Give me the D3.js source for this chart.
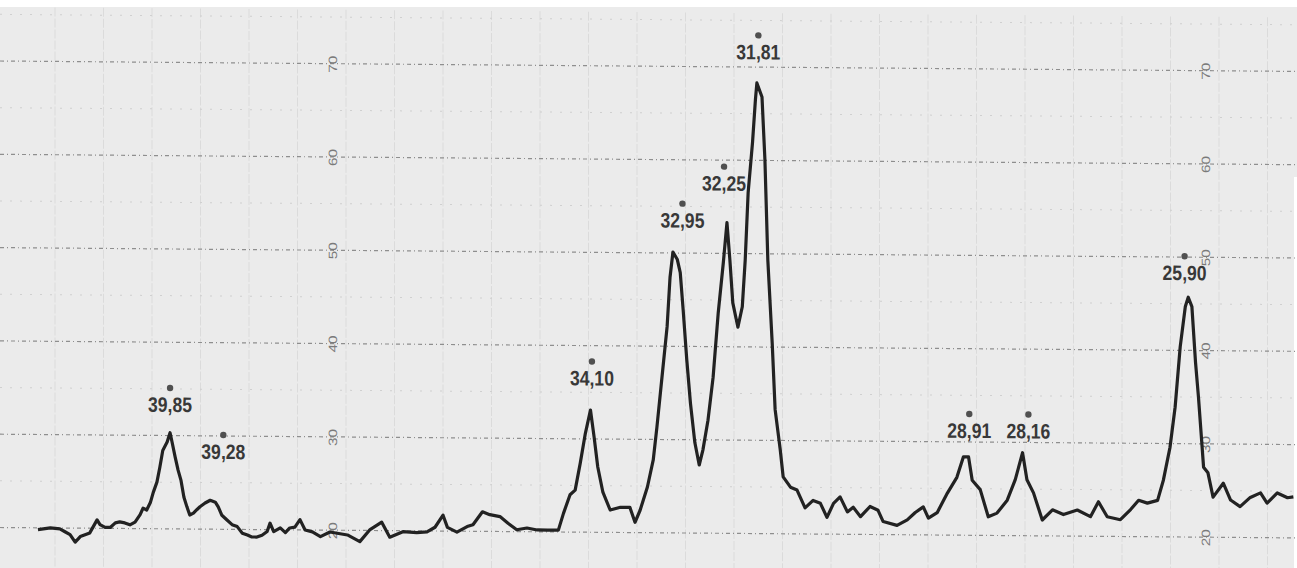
<!DOCTYPE html>
<html>
<head>
<meta charset="utf-8">
<script src="https://cdn.jsdelivr.net/npm/d3@7"></script>
<style>
  body { margin: 0; background: #fff; }
  svg { display: block; }
</style>
</head>
<body>
<div id="datavis"></div>
<script>
// 2-theta (degrees) from left to right
const angles = [
  41.66, 41.49, 41.36, 41.29, 41.22, 41.15, 41.08, 40.95, 40.85, 40.81,
  40.74, 40.67, 40.60, 40.54, 40.47, 40.40, 40.33, 40.26, 40.22, 40.17,
  40.12, 40.08, 40.03, 39.99, 39.95, 39.89, 39.85, 39.82, 39.78, 39.74,
  39.70, 39.66, 39.62, 39.58, 39.53, 39.48, 39.44, 39.37, 39.30, 39.23,
  39.19, 39.14, 39.07, 39.00, 38.93, 38.86, 38.79, 38.73, 38.66, 38.59,
  38.52, 38.48, 38.43, 38.34, 38.27, 38.21, 38.14, 38.07, 38.00, 37.90,
  37.79, 37.66, 37.42, 37.25, 37.11, 36.95, 36.84, 36.66, 36.47, 36.33,
  36.22, 36.11, 36.05, 35.92, 35.78, 35.70, 35.57, 35.47, 35.33, 35.22,
  35.10, 34.96, 34.82, 34.68, 34.53, 34.46, 34.37, 34.30, 34.23, 34.16,
  34.09, 34.04, 33.99, 33.92, 33.82, 33.68, 33.55, 33.48, 33.41, 33.31,
  33.23, 33.18, 33.11, 33.04, 33.00, 32.96, 32.90, 32.86, 32.82, 32.77,
  32.72, 32.66, 32.60, 32.55, 32.48, 32.41, 32.34, 32.27, 32.22, 32.18,
  32.14, 32.07, 32.01, 31.97, 31.93, 31.87, 31.83, 31.81, 31.74, 31.70,
  31.66, 31.60, 31.56, 31.49, 31.45, 31.35, 31.26, 31.15, 31.04, 30.94,
  30.85, 30.76, 30.67, 30.57, 30.49, 30.39, 30.26, 30.15, 30.08, 29.89,
  29.75, 29.64, 29.53, 29.46, 29.34, 29.20, 29.07, 28.98, 28.91, 28.86,
  28.75, 28.64, 28.52, 28.38, 28.27, 28.17, 28.11, 28.02, 27.90, 27.76,
  27.61, 27.42, 27.24, 27.13, 27.01, 26.83, 26.69, 26.58, 26.46, 26.32,
  26.24, 26.15, 26.08, 26.01, 25.94, 25.90, 25.85, 25.80, 25.76, 25.69,
  25.63, 25.56, 25.42, 25.32, 25.19, 25.05, 24.91, 24.82, 24.68, 24.54,
  24.46
]

// intensity in chart divisions at each angle
const counts = [
  19.8, 20.0, 19.9, 19.6, 19.3, 18.5, 19.1, 19.5, 20.9, 20.4,
  20.1, 20.1, 20.6, 20.7, 20.6, 20.4, 20.7, 21.5, 22.2, 22.0,
  22.8, 23.9, 25.0, 26.6, 28.4, 29.3, 30.3, 29.2, 27.7, 26.3,
  25.2, 23.4, 22.4, 21.5, 21.7, 22.1, 22.4, 22.8, 23.1, 22.9,
  22.4, 21.5, 21.0, 20.5, 20.3, 19.6, 19.4, 19.2, 19.2, 19.4,
  19.8, 20.7, 19.8, 20.2, 19.7, 20.2, 20.3, 21.1, 20.0, 19.8,
  19.3, 19.8, 19.5, 18.8, 20.1, 20.9, 19.3, 19.9, 19.8, 19.9,
  20.4, 21.7, 20.4, 19.9, 20.5, 20.7, 22.1, 21.8, 21.6, 20.9,
  20.2, 20.4, 20.2, 20.2, 20.2, 22.0, 24.0, 24.5, 27.4, 30.6,
  33.1, 30.2, 27.0, 24.3, 22.4, 22.7, 22.7, 21.1, 22.4, 24.9,
  27.8, 31.3, 36.7, 42.1, 47.4, 50.1, 49.3, 47.9, 43.9, 38.5,
  33.9, 29.7, 27.3, 28.9, 32.1, 36.7, 43.6, 49.0, 53.3, 49.3,
  44.7, 42.1, 44.3, 49.3, 56.5, 61.9, 66.5, 68.3, 66.8, 60.1,
  49.3, 40.4, 33.3, 29.0, 26.1, 25.0, 24.7, 22.8, 23.6, 23.3,
  21.8, 23.3, 24.0, 22.4, 22.9, 21.9, 23.0, 22.6, 21.4, 21.0,
  21.6, 22.4, 23.0, 21.8, 22.4, 24.5, 26.2, 28.4, 28.4, 25.9,
  24.9, 22.0, 22.4, 23.8, 26.0, 28.9, 26.0, 24.6, 21.7, 22.8,
  22.3, 22.8, 22.1, 23.7, 22.1, 21.8, 22.9, 23.9, 23.6, 23.9,
  26.1, 29.6, 33.9, 40.4, 44.7, 45.7, 44.7, 38.7, 35.0, 27.5,
  26.9, 24.3, 25.8, 24.0, 23.3, 24.3, 24.8, 23.7, 24.8, 24.3,
  24.4
]

// hand written peak annotations: label, where the dot sits (angle, level)
const peakTexts  = ["39,85", "39,28", "34,10", "32,95", "32,25", "31,81", "28,91", "28,16", "25,90"]
const peakAngles = [39.85, 39.12, 34.07, 32.83, 32.26, 31.79, 28.90, 28.09, 25.95]
const peakLevels = [35.1, 30.1, 38.3, 55.3, 59.3, 73.4, 33.0, 33.0, 50.1]

// printed scale of the chart paper
const yTicks = [20, 30, 40, 50, 60, 70]
const yMinor = [25, 35, 45, 55, 65, 75]
const scaleColumns = [6, 24]   // paper divisions that carry the printed numbers

const width = 1297, height = 568

const x = d3.scaleLinear().domain([42.18, 24.41]).range([0, width])
const y = d3.scaleLinear().domain([20, 70]).range([527.5, 61])
// vertical rulings of the recorder paper, one per division
const paper = d3.scaleLinear().domain([0, 26]).range([55, 1316])

const svg = d3.select("#datavis")
  .append("svg")
    .attr("width", width)
    .attr("height", height)

// the scanned sheet
svg.append("rect")
  .attr("x", 0).attr("y", 7)
  .attr("width", width).attr("height", height - 7)
  .attr("fill", "#ebebeb")
svg.append("rect")
  .attr("x", 1294).attr("y", 177)
  .attr("width", 3).attr("height", height - 177)
  .attr("fill", "#fff")

// the sheet sits slightly askew in the scan
const g = svg.append("g")
  .attr("transform", "skewY(0.46)")

g.append("g")
  .selectAll("line")
  .data(d3.range(0, 27))
  .join("line")
    .attr("x1", d => paper(d)).attr("x2", d => paper(d))
    .attr("y1", 7).attr("y2", height)
    .attr("stroke", "#dbdbdb")
    .attr("stroke-width", 1)
    .attr("stroke-dasharray", "9,2")

g.append("g")
  .selectAll("line")
  .data(yMinor)
  .join("line")
    .attr("x1", 0).attr("x2", width)
    .attr("y1", d => y(d)).attr("y2", d => y(d))
    .attr("stroke", "#d0d0d0")
    .attr("stroke-width", 1)
    .attr("stroke-dasharray", "2,8")

g.append("g")
  .selectAll("line")
  .data(yTicks)
  .join("line")
    .attr("x1", 0).attr("x2", width)
    .attr("y1", d => y(d)).attr("y2", d => y(d))
    .attr("stroke", "#8e8e8e")
    .attr("stroke-width", 1.2)
    .attr("stroke-dasharray", "4,3,1,3")

// printed numbers of the scale, turned sideways
scaleColumns.forEach(c => {
  const ax = g.append("g")
    .attr("transform", "translate(" + (paper(c) - 13) + ",0)")
    .call(d3.axisRight(y).tickValues(yTicks).tickSize(0).tickPadding(0))
  ax.select(".domain").remove()
  ax.selectAll("text")
    .attr("x", 0)
    .attr("dy", null)
    .attr("text-anchor", "middle")
    .attr("dominant-baseline", "central")
    .attr("transform", "rotate(-90)")
    .attr("fill", "#7a7a7a")
    .attr("font-family", "Liberation Sans, Arial, sans-serif")
    .attr("font-size", 12)
    .attr("textLength", 17)
    .attr("lengthAdjust", "spacingAndGlyphs")
})

const trace = d3.zip(angles, counts)

g.append("path")
  .datum(trace)
  .attr("fill", "none")
  .attr("stroke", "#222")
  .attr("stroke-width", 3.2)
  .attr("stroke-linejoin", "round")
  .attr("d", d3.line()
    .x(d => x(d[0]))
    .y(d => y(d[1])))

const peaks = d3.zip(peakTexts, peakAngles, peakLevels)

g.append("g")
  .selectAll("circle")
  .data(peaks)
  .join("circle")
    .attr("cx", d => x(d[1]))
    .attr("cy", d => y(d[2]))
    .attr("r", 3.2)
    .attr("fill", "#505050")

g.append("g")
  .selectAll("text")
  .data(peaks)
  .join("text")
    .attr("x", d => x(d[1]))
    .attr("y", d => y(d[2]) + 24)
    .attr("text-anchor", "middle")
    .attr("font-family", "Liberation Sans, Arial, sans-serif")
    .attr("font-weight", "bold")
    .attr("font-size", 21)
    .attr("textLength", 44)
    .attr("lengthAdjust", "spacingAndGlyphs")
    .attr("fill", "#383838")
    .text(d => d[0])
</script>
</body>
</html>
